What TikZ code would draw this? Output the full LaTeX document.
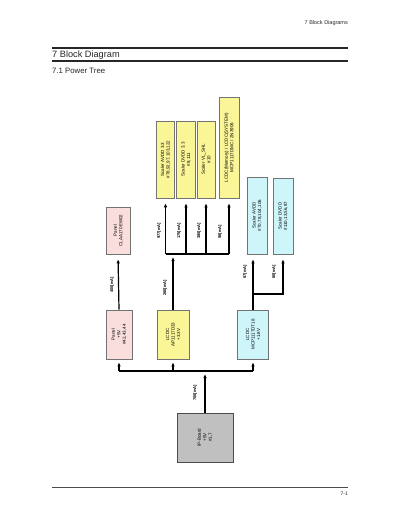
\documentclass[tikz,border=0pt]{standalone}
\usepackage{fontspec}
\setmainfont{Liberation Sans}
\usetikzlibrary{arrows.meta}
\definecolor{pinkf}{RGB}{250,222,222}
\definecolor{yelf}{RGB}{250,245,150}
\definecolor{cyanf}{RGB}{205,245,250}
\definecolor{grayf}{RGB}{192,192,192}
\begin{document}
\begin{tikzpicture}[x=1pt,y=-1pt,
  box/.style={draw=black!55, line width=0.6pt, rotate=90, inner sep=0pt, align=center,
              font=\fontsize{4.5}{5.5}\selectfont},
  pinkbox/.style={box, fill=pinkf},
  yelbox/.style={box, fill=yelf},
  cyanbox/.style={box, fill=cyanf},
  graybox/.style={box, fill=grayf, draw=black!70},
  arr/.style={line width=1.2pt, -{Latex[length=4pt,width=3.5pt]}},
  ln/.style={line width=1.2pt},
  lbl/.style={rotate=90, inner sep=0pt, font=\fontsize{4}{5}\selectfont\bfseries}]
\useasboundingbox (0,0) rectangle (400,518);

% header
\node[anchor=east, inner sep=0pt, text=black!85, font=\fontsize{5.5}{6}\selectfont] (hdr) at (348,23) {7 Block Diagrams};
\draw[line width=1.5pt, black!85] (52,48) -- (348,48);
\node[anchor=base west, inner sep=0pt, text=black!85, font=\fontsize{9.2}{11}\selectfont] (title) at (52,58) {7 Block Diagram};
\draw[line width=1.5pt, black!85] (52,61) -- (348,61);
\node[anchor=base west, inner sep=0pt, text=black!85, font=\fontsize{7.8}{9}\selectfont] (sub) at (52,74) {7.1 Power Tree};
\draw[line width=0.5pt, black!70] (52,487) -- (348,487);
\node[anchor=east, inner sep=0pt, text=black!85, font=\fontsize{5}{6}\selectfont] (pg) at (348,494) {7-1};

% boxes (rotated: minimum width = screen height)
\node[pinkbox, minimum width=47pt, minimum height=24pt] (ptop) at (118,230.5) {Panel\\CLAA170EW02};
\node[pinkbox, minimum width=49pt, minimum height=26pt] (p5) at (119,334.5) {Panel\\+5V\\\#42,43,44};
\node[yelbox, minimum width=49pt, minimum height=32pt] (l33) at (173,334.5) {LCDC\\AP1117D33\\+3.3V};
\node[cyanbox, minimum width=49pt, minimum height=31pt] (l18) at (253,334.5) {LCDC\\MCP1117DT18\\+1.8V};
\node[graybox, minimum width=49pt, minimum height=56pt] (ip) at (205,437.5) {IP-Board\\+5V\\\#1,7};

\node[yelbox, minimum width=77pt, minimum height=18pt] (sa) at (165.5,159.5) {Scaler AVDD 3.3\\\#78,92,97,103,122};
\node[yelbox, minimum width=77pt, minimum height=19pt] (sd) at (186,159.5) {Scaler DVDD 3.3\\\#8,111};
\node[yelbox, minimum width=77pt, minimum height=18pt] (sv) at (206,159.5) {Scaler VL\_SHL\\\#10};
\node[yelbox, minimum width=101pt, minimum height=20pt] (lm) at (229,147.5) {LCDC(Memory) / LCDC(SYSTEM)\\MCP1117DMC / 2N3906};

\node[cyanbox, minimum width=77pt, minimum height=20pt] (ca) at (257,215.5) {Scaler AVDD\\\#70,78,104,106};
\node[cyanbox, minimum width=76pt, minimum height=20pt] (cd) at (283,216) {Scaler DVDD\\\#110,13,56,87};

% connectors
\coordinate (bj) at (205,371);
\draw[arr, shorten >=3pt] (ip.east) -- (bj);
\draw[ln] (p5.west |- bj) -- (l18.west |- bj);
\draw[arr, shorten >=3pt] (p5.west |- bj) -- (p5.west);
\draw[arr, shorten >=3pt] (l33.west |- bj) -- (l33.west);
\draw[arr, shorten >=3pt] (l18.west |- bj) -- (l18.west);

\draw[arr, shorten >=5pt] (p5.east) -- (ptop.west);

\coordinate (b2) at (173,254);
\draw[arr, shorten >=3pt] (l33.east) -- (b2);
\draw[ln] (sa.west |- b2) -- (lm.west |- b2);
\draw[arr, shorten >=5pt] (sa.west |- b2) -- (sa.west);
\draw[arr, shorten >=5pt] (sd.west |- b2) -- (sd.west);
\draw[arr, shorten >=5pt] (sv.west |- b2) -- (sv.west);
\draw[arr, shorten >=5pt] (lm.west |- b2) -- (lm.west);

\coordinate (b3) at (253,294);
\draw[arr, shorten >=5pt] (l18.east) -- (l18.east |- ca.west);
\draw[arr, shorten >=5pt] (b3) -| (cd.west);

% labels
\node[lbl] (t700) at (195,393) {700[mA]};
\node[lbl] (t400) at (112,285) {400[mA]};
\node[lbl] (t280) at (165,288) {280[mA]};
\node[lbl] (t977) at (159,231) {977[mA]};
\node[lbl] (t175) at (179,231) {175[mA]};
\node[lbl] (t385) at (199,231) {385[mA]};
\node[lbl] (t98) at (220,232) {98[mA]};
\node[lbl] (t87) at (245,272) {87[mA]};
\node[lbl] (t80) at (274,272) {80[mA]};
\end{tikzpicture}
\end{document}
